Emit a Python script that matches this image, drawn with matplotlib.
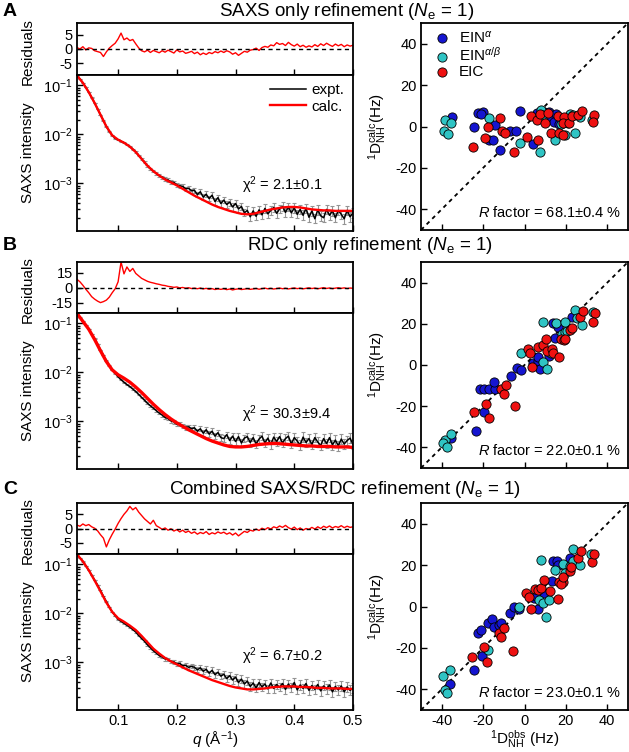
import numpy as np
import matplotlib
matplotlib.use('Agg')
import matplotlib.pyplot as plt

plt.rcParams['font.family'] = ['Liberation Sans', 'DejaVu Sans']
plt.rcParams['mathtext.fontset'] = 'custom'
plt.rcParams['mathtext.rm'] = 'Liberation Sans'
plt.rcParams['mathtext.it'] = 'Liberation Sans:italic'
plt.rcParams['mathtext.bf'] = 'Liberation Sans:bold'
plt.rcParams['axes.unicode_minus'] = False

# ---- SAXS data (log10 intensity), expt sampled every 0.005, calc every 0.01 ----
q_expt = np.linspace(0.03, 0.5, 95)
q_calc = np.linspace(0.03, 0.5, 48)

expt_a = [-0.80, -0.87, -0.95, -1.04, -1.14, -1.25, -1.36, -1.48, -1.60, -1.72,
          -1.84, -1.94, -2.02, -2.08, -2.11, -2.14, -2.17, -2.21, -2.25, -2.30,
          -2.36, -2.43, -2.50, -2.57, -2.64, -2.70, -2.75, -2.80, -2.84, -2.87,
          -2.91, -2.93, -2.97, -2.98, -3.03, -3.05, -3.06, -3.11, -3.10, -3.15,
          -3.14, -3.23, -3.17, -3.28, -3.22, -3.31, -3.24, -3.37, -3.29, -3.41,
          -3.34, -3.43, -3.38, -3.48, -3.41, -3.52, -3.47, -3.60, -3.55, -3.68,
          -3.56, -3.67, -3.54, -3.64, -3.51, -3.62, -3.55, -3.49, -3.61, -3.52,
          -3.47, -3.59, -3.48, -3.60, -3.50, -3.63, -3.53, -3.65, -3.51, -3.69,
          -3.56, -3.72, -3.54, -3.66, -3.70, -3.53, -3.65, -3.56, -3.70, -3.55,
          -3.63, -3.72, -3.55, -3.68, -3.60]
expt_b = [-0.80, -0.88, -0.96, -1.04, -1.12, -1.22, -1.31, -1.42, -1.54, -1.65,
          -1.76, -1.86, -1.95, -2.02, -2.09, -2.15, -2.20, -2.25, -2.29, -2.34,
          -2.39, -2.45, -2.51, -2.57, -2.63, -2.68, -2.73, -2.78, -2.83, -2.87,
          -2.92, -2.94, -2.99, -3.01, -3.06, -3.06, -3.10, -3.12, -3.11, -3.15,
          -3.13, -3.20, -3.15, -3.24, -3.17, -3.26, -3.20, -3.30, -3.23, -3.33,
          -3.35, -3.27, -3.39, -3.30, -3.41, -3.31, -3.44, -3.34, -3.31, -3.43,
          -3.33, -3.46, -3.36, -3.30, -3.44, -3.34, -3.47, -3.32, -3.41, -3.31,
          -3.44, -3.35, -3.30, -3.46, -3.33, -3.40, -3.48, -3.32, -3.43, -3.35,
          -3.47, -3.33, -3.42, -3.49, -3.35, -3.45, -3.33, -3.48, -3.38, -3.50,
          -3.36, -3.46, -3.39, -3.34, -3.47]
expt_c = [-0.80, -0.87, -0.94, -1.03, -1.12, -1.22, -1.32, -1.42, -1.53, -1.65,
          -1.76, -1.87, -1.97, -2.05, -2.12, -2.16, -2.20, -2.24, -2.28, -2.33,
          -2.38, -2.45, -2.51, -2.57, -2.64, -2.70, -2.76, -2.81, -2.86, -2.89,
          -2.93, -2.94, -2.98, -2.99, -3.03, -3.02, -3.07, -3.06, -3.10, -3.08,
          -3.10, -3.15, -3.11, -3.18, -3.14, -3.22, -3.16, -3.25, -3.20, -3.28,
          -3.24, -3.33, -3.27, -3.36, -3.30, -3.41, -3.34, -3.44, -3.38, -3.49,
          -3.42, -3.52, -3.41, -3.50, -3.44, -3.54, -3.42, -3.53, -3.45, -3.51,
          -3.43, -3.55, -3.44, -3.52, -3.41, -3.56, -3.46, -3.53, -3.43, -3.57,
          -3.47, -3.55, -3.45, -3.58, -3.48, -3.54, -3.46, -3.60, -3.49, -3.56,
          -3.48, -3.60, -3.50, -3.57, -3.52]
# experimental error, half width in decades
err_dex = [0.003, 0.003, 0.003, 0.003, 0.003, 0.003, 0.003, 0.004, 0.004, 0.004,
           0.005, 0.005, 0.006, 0.006, 0.007, 0.007, 0.008, 0.009, 0.010, 0.011,
           0.012, 0.014, 0.015, 0.017, 0.019, 0.021, 0.023, 0.025, 0.027, 0.030,
           0.032, 0.034, 0.037, 0.035, 0.040, 0.042, 0.039, 0.045, 0.047, 0.044,
           0.050, 0.053, 0.049, 0.056, 0.058, 0.055, 0.061, 0.063, 0.059, 0.066,
           0.068, 0.064, 0.071, 0.073, 0.069, 0.076, 0.078, 0.072, 0.080, 0.083,
           0.077, 0.085, 0.081, 0.088, 0.084, 0.079, 0.090, 0.086, 0.092, 0.082,
           0.089, 0.094, 0.087, 0.091, 0.096, 0.085, 0.093, 0.098, 0.088, 0.095,
           0.100, 0.090, 0.097, 0.102, 0.092, 0.099, 0.094, 0.104, 0.096, 0.101,
           0.098, 0.106, 0.095, 0.103, 0.100]

calc_a = [-0.80, -0.95, -1.14, -1.36, -1.60, -1.84, -2.02, -2.11, -2.17, -2.25,
          -2.36, -2.50, -2.64, -2.75, -2.84, -2.92, -2.98, -3.04, -3.11, -3.18,
          -3.25, -3.31, -3.37, -3.43, -3.48, -3.52, -3.56, -3.59, -3.62, -3.63,
          -3.62, -3.59, -3.56, -3.53, -3.51, -3.49, -3.48, -3.48, -3.49, -3.51,
          -3.53, -3.54, -3.55, -3.55, -3.56, -3.56, -3.56, -3.56]
calc_b = [-0.80, -0.96, -1.12, -1.33, -1.56, -1.78, -1.95, -2.05, -2.12, -2.20,
          -2.30, -2.41, -2.53, -2.65, -2.76, -2.86, -2.95, -3.03, -3.10, -3.17,
          -3.23, -3.29, -3.35, -3.40, -3.44, -3.48, -3.51, -3.52, -3.52, -3.51,
          -3.49, -3.47, -3.46, -3.45, -3.45, -3.46, -3.47, -3.48, -3.49, -3.50,
          -3.50, -3.51, -3.51, -3.51, -3.52, -3.52, -3.52, -3.53]
calc_c = [-0.80, -0.94, -1.12, -1.33, -1.55, -1.78, -1.97, -2.10, -2.17, -2.25,
          -2.34, -2.46, -2.59, -2.72, -2.82, -2.91, -2.98, -3.04, -3.10, -3.16,
          -3.21, -3.26, -3.31, -3.36, -3.40, -3.44, -3.48, -3.51, -3.53, -3.55,
          -3.55, -3.54, -3.53, -3.51, -3.50, -3.49, -3.49, -3.49, -3.50, -3.50,
          -3.51, -3.52, -3.52, -3.53, -3.53, -3.53, -3.54, -3.54]

# ---- residuals (same q as expt) ----
res_a = [0.5, 0.0, 0.8, -0.3, 0.4, 0.2, -0.6, -0.9, -1.2, -2.6,
         -1.0, 0.3, 1.2, 2.0, 3.5, 5.5, 3.2, 3.8, 2.9, 3.3,
         1.8, 0.4, -0.6, -1.0, -0.4, -1.2, -0.5, -0.9, -1.3, -0.6,
         -1.1, -0.4, -0.9, -1.4, -0.3, -1.0, -0.7, -1.5, -1.2, -0.8,
         -1.6, -1.1, -2.0, -1.4, -1.9, -1.2, -1.6, -0.9, -1.3, -0.7,
         -1.2, -0.6, -1.0, -1.8, -1.3, -2.2, -1.5, -0.8, -1.1, -0.4,
         -0.2, 0.3, -0.5, 0.5, 0.9, 0.6, 1.4, 1.1, 2.2, 1.6,
         1.9, 1.2, 2.3, 1.5, 1.0, 1.7, 0.8, 1.3, 0.6, 1.1,
         0.7, 1.5, 0.9, 1.8, 1.2, 2.0, 1.4, 0.9, 1.7, 1.1,
         1.6, 0.8, 1.4, 1.0, 1.3]
res_b = [8.5, 6.0, 2.5, -1.5, -5.0, -9.0, -11.5, -13.5, -15.0, -14.0,
         -12.5, -9.5, -5.0, -1.0, 6.0, 26.0, 14.0, 21.0, 16.5, 19.5,
         14.5, 12.0, 9.5, 8.0, 6.5, 5.5, 4.8, 4.0, 3.4, 2.6,
         2.2, 1.4, 1.0, 0.4, 0.8, -0.2, 0.3, -0.5, 0.0, -0.8,
         -0.4, -1.0, -0.3, -1.2, -0.6, -1.5, -0.9, -1.8, -1.1, -1.6,
         -1.0, -1.9, -1.3, -2.2, -1.5, -1.1, -1.8, -1.4, -0.9, -1.6,
         -1.2, -0.7, -1.5, -0.9, -0.4, -1.1, -0.6, -1.3, -0.8, -0.3,
         -1.0, -0.5, -1.2, -0.7, -0.2, -0.9, -0.4, -1.1, -0.6, -0.1,
         -0.8, -0.3, -1.0, -0.5, 0.1, -0.7, -0.2, -0.9, -0.4, 0.0,
         -0.6, -0.1, -0.8, -0.3, -0.5]
res_c = [1.2, 0.8, 1.6, 1.0, 1.4, 0.6, 0.1, -0.8, -2.2, -3.4,
         -6.5, -4.0, -2.0, -0.2, 1.8, 3.5, 5.0, 6.2, 7.8, 6.6,
         7.4, 5.8, 4.6, 3.4, 2.5, 1.6, 2.9, 1.0, 0.4, -0.3,
         0.2, -0.6, -0.1, -0.9, -0.4, -1.2, -0.6, -1.4, -0.9, -1.7,
         -1.2, -2.0, -1.4, -1.8, -1.1, -2.1, -1.5, -1.9, -1.2, -1.7,
         -1.3, -2.0, -1.5, -2.3, -1.6, -2.6, -1.8, -1.0, -1.4, -0.6,
         -0.9, -0.2, -0.7, 0.1, -0.4, 0.3, -0.2, 0.6, 0.2, 0.9,
         0.4, 1.1, 0.3, -0.2, 0.5, -0.4, 0.2, -0.6, 0.0, -0.3,
         0.4, -0.2, 0.6, 0.0, 0.8, 0.3, 0.9, 0.2, 0.7, 0.4,
         1.0, 0.3, 0.8, 0.4, 0.6]

# ---- RDC correlation (obs, calc) in Hz ----
a_alpha = [(-35.2, 4.5), (-22.3, 6.5), (-20.2, 7.0), (-21.0, 6.0), (-24.2, -0.3), (-14.1, 0.6),
           (-17.0, -6.3), (-15.2, -6.3), (-12.0, -11.4), (-6.9, -2.0), (-4.3, -2.0), (-2.3, 7.3),
           (4.0, -8.4), (6.0, 6.5), (9.6, 7.0), (12.0, 7.0), (12.8, 4.5), (15.2, 6.2), (14.4, 2.1),
           (16.8, 1.3)]
a_ab = [(-38.5, 3.3), (-35.5, 1.6), (-38.8, -2.4), (-37.1, -3.6), (-17.0, 4.0), (-2.3, -8.0),
        (7.3, -12.2), (8.0, 7.8), (8.3, 5.4), (17.6, 1.3), (20.9, 1.6), (22.1, 6.2), (23.3, 5.4),
        (27.0, 4.5), (32.5, 2.9), (24.4, -2.9), (19.7, -4.1), (14.9, -6.5)]
a_eic = [(-11.8, 4.0), (-17.8, -0.3), (-18.9, -5.5), (-24.7, -10.1), (-10.9, -2.0), (-9.3, -2.9),
         (1.1, -5.2), (-4.9, -12.3), (6.4, -6.3), (3.1, 4.9), (6.0, 3.3), (7.6, 5.9), (9.9, 1.6),
         (11.2, 6.5), (16.0, 4.9), (19.2, 4.5), (18.5, 1.6), (21.6, 1.6), (23.0, 4.9), (25.7, 5.4),
         (27.8, 7.6), (33.7, 5.4), (32.9, 2.1), (12.8, -2.9), (16.8, -3.3), (18.5, -4.1)]

b_alpha = [(-35.3, -35.6), (-23.4, -32.2), (-19.4, -23.0), (-21.3, -11.7), (-19.4, -11.7),
           (-17.0, -11.7), (-14.3, -11.7), (-14.6, -8.1), (-6.5, -5.3), (-3.6, -1.6), (-1.7, -2.4),
           (4.3, 1.1), (6.7, 1.8), (7.5, -1.8), (6.7, 3.9), (11.7, 4.4), (14.7, 13.0), (13.9, 20.4),
           (15.6, 20.0), (16.3, 18.4), (22.8, 23.5)]
b_ab = [(-38.5, -36.4), (-39.3, -38.0), (-37.4, -40.0), (-35.3, -33.3), (-1.8, 5.9), (9.1, 1.4),
        (11.0, -1.8), (9.1, 21.1), (15.4, 20.2), (18.0, 15.1), (19.6, 15.9), (20.7, 16.3),
        (19.6, 20.8), (24.4, 26.7), (25.2, 22.7), (27.6, 19.5), (33.3, 25.6), (13.0, 6.0)]
b_eic = [(-24.5, -23.0), (-18.6, -18.8), (-17.0, -25.8), (-4.4, -20.1), (-11.4, -11.7),
         (-9.8, -14.0), (-8.9, -9.7), (1.5, 7.6), (2.7, 5.8), (3.8, -1.1), (6.7, 8.7), (9.1, 9.8),
         (10.4, 12.4), (11.0, 6.9), (13.1, 7.6), (13.6, 5.9), (16.7, 3.9), (17.5, 12.7), (19.1, 11.9),
         (19.7, 12.4), (22.0, 16.8), (22.8, 17.9), (26.8, 23.5), (28.1, 26.4), (34.0, 25.3),
         (33.3, 21.1)]

c_alpha = [(-35.9, -37.5), (-24.5, -30.5), (-20.5, -23.7), (-22.6, -12.9), (-20.8, -11.3),
           (-17.7, -8.1), (-15.6, -6.0), (-14.8, -9.7), (-12.3, -8.7), (-11.5, -8.1), (-7.1, -3.2),
           (-5.0, 0.0), (-2.6, -1.1), (4.4, 4.2), (5.5, 5.3), (6.3, -1.1), (9.6, 6.5), (13.3, 12.3),
           (13.6, 22.0), (15.6, 22.0), (16.1, 19.9), (21.8, 23.6)]
c_ab = [(-39.4, -33.8), (-38.3, -40.4), (-37.5, -42.0), (-35.9, -30.5), (-17.7, -21.0), (-2.6, -0.3),
        (7.1, 3.2), (8.8, 1.6), (8.0, 22.3), (10.4, -5.2), (12.0, 3.2), (14.8, 17.4), (18.5, 20.4),
        (19.8, 16.2), (21.8, 19.4), (23.4, 22.0), (26.6, 20.2), (23.5, 27.8), (32.3, 25.5)]
c_eic = [(-25.3, -24.6), (-19.6, -19.7), (-18.3, -26.7), (-5.4, -21.3), (-12.3, -12.9),
         (-11.5, -14.5), (-9.9, -10.3), (0.6, 6.5), (2.3, 4.5), (3.1, -1.1), (5.0, 8.6), (6.3, 8.1),
         (8.0, 9.0), (9.6, 12.6), (12.5, 7.4), (16.1, 3.7), (16.9, 12.0), (18.5, 12.0), (17.7, 10.7),
         (18.5, 14.2), (21.9, 17.1), (22.6, 19.1), (25.8, 23.3), (27.4, 26.8), (32.6, 21.5),
         (33.6, 25.5)]

titles = ['SAXS only refinement ($N_{\\mathrm{e}}$ = 1)',
          'RDC only refinement ($N_{\\mathrm{e}}$ = 1)',
          'Combined SAXS/RDC refinement ($N_{\\mathrm{e}}$ = 1)']
letters = ['A', 'B', 'C']
chi_text = ['2.1±0.1', '30.3±9.4', '6.7±0.2']
r_text = ['68.1±0.4', '22.0±0.1', '23.0±0.1']

expts = [expt_a, expt_b, expt_c]
calcs = [calc_a, calc_b, calc_c]
resids = [res_a, res_b, res_c]
rdcs = [(a_alpha, a_ab, a_eic), (b_alpha, b_ab, b_eic), (c_alpha, c_ab, c_eic)]

# layout in pixels: (residual top, split, saxs bottom, scatter bottom)
rows = [(23, 75, 231, 230), (262, 313, 469, 468), (503, 554, 710, 710)]
title_pos = [(347, 11), (370, 246), (345, 490)]
letter_y = [11, 246, 490]
res_lim = [(-9, 9), (-25.5, 26), (-9, 9)]
res_ticks = [[5, 0, -5], [15, 0, -15], [5, 0, -5]]
chi_y = [0.295, 0.35, 0.345]

W, H = 629, 752
fig = plt.figure(figsize=(W / 100, H / 100), dpi=100)


def box(x0, y0, x1, y1):
    return [x0 / W, 1 - y1 / H, (x1 - x0) / W, (y1 - y0) / H]


def style(ax):
    for s in ax.spines.values():
        s.set_linewidth(1.3)
    ax.tick_params(which='both', direction='in', labelsize=10.5, width=1.0, length=4, pad=3)
    ax.tick_params(which='minor', length=2.5)


blue, cyan, red = '#1515d0', '#2fc4c4', '#ee1111'

for i in range(3):
    top, mid, bot, sbot = rows[i]
    ax_r = fig.add_axes(box(77, top, 353, mid))
    ax_m = fig.add_axes(box(77, mid, 353, bot))
    ax_s = fig.add_axes(box(421, top, 628, sbot))

    # residuals
    ax_r.plot(q_expt, resids[i], color='red', lw=1.0)
    ax_r.axhline(0, color='k', lw=1.0, ls=(0, (3, 2.5)))
    ax_r.set_xlim(0.03, 0.5)
    ax_r.set_ylim(*res_lim[i])
    ax_r.set_yticks(res_ticks[i])
    ax_r.set_xticks([0.1, 0.2, 0.3, 0.4, 0.5])
    ax_r.tick_params(labelbottom=False)
    ax_r.set_ylabel('Residuals', fontsize=11)
    ax_r.yaxis.set_label_coords(-0.152, 0.45)
    style(ax_r)

    # SAXS curves
    ye = np.array(expts[i])
    er = np.array(err_dex)
    Ie = 10 ** ye
    ax_m.errorbar(q_expt, Ie, yerr=[Ie - 10 ** (ye - er), 10 ** (ye + er) - Ie], fmt='none',
                  ecolor='0.58', elinewidth=0.8, capsize=1.4, capthick=0.8)
    ax_m.plot(q_expt, Ie, color='k', lw=1.1, label='expt.')
    ax_m.plot(q_calc, 10 ** np.array(calcs[i]), color='red', lw=2.4 if i == 1 else 1.7,
              label='calc.')
    ax_m.set_yscale('log')
    ax_m.set_xlim(0.03, 0.5)
    ax_m.set_ylim(10 ** -3.97, 10 ** -0.79)
    ax_m.set_xticks([0.1, 0.2, 0.3, 0.4, 0.5])
    ax_m.set_xticklabels(['0.1', '0.2', '0.3', '0.4', '0.5'])
    ax_m.set_ylabel('SAXS intensity', fontsize=11)
    ax_m.yaxis.set_label_coords(-0.152, 0.5)
    ax_m.text(0.597, chi_y[i], 'χ$^{2}$ = ' + chi_text[i], transform=ax_m.transAxes,
              fontsize=10.5, va='center', ha='left')
    style(ax_m)
    if i < 2:
        ax_m.tick_params(labelbottom=False)
    else:
        ax_m.set_xlabel('$q$ (Å$^{-1}$)', fontsize=11, labelpad=1)
    if i == 0:
        ax_m.legend(loc='upper right', frameon=False, fontsize=11, handlelength=2.3,
                    handletextpad=0.4, labelspacing=0.15, borderaxespad=0.15)

    # RDC scatter
    ax_s.plot([-50, 50], [-50, 50], color='k', lw=1.3, ls=(0, (2.2, 2.2)), zorder=1)
    labels = ['EIN$^{α}$', 'EIN$^{α/β}$', 'EIC']
    for pts, col, lab in zip(rdcs[i], [blue, cyan, red], labels):
        arr = np.array(pts)
        ax_s.scatter(arr[:, 0], arr[:, 1], s=44, c=col, edgecolors='k', linewidths=0.6,
                     zorder=3, label=lab)
    ax_s.set_xlim(-50, 50)
    ax_s.set_ylim(-50, 50)
    ax_s.set_xticks([-40, -20, 0, 20, 40])
    ax_s.set_yticks([-40, -20, 0, 20, 40])
    ax_s.set_ylabel('$^{1}$D$_{\\mathrm{NH}}^{\\mathrm{calc}}$(Hz)', fontsize=11)
    ax_s.yaxis.set_label_coords(-0.16, 0.5)
    ax_s.text(0.965, 0.05, '$R$ factor = ' + r_text[i] + ' %', transform=ax_s.transAxes,
              ha='right', va='bottom', fontsize=10.5)
    style(ax_s)
    if i < 2:
        ax_s.tick_params(labelbottom=False)
    else:
        ax_s.set_xlabel('$^{1}$D$_{\\mathrm{NH}}^{\\mathrm{obs}}$ (Hz)', fontsize=11, labelpad=0)
    if i == 0:
        ax_s.legend(loc='upper left', frameon=False, fontsize=11, handletextpad=0.1,
                    labelspacing=0.05, borderaxespad=0.2, borderpad=0.2)

    fig.text(title_pos[i][0] / W, 1 - title_pos[i][1] / H, titles[i], ha='center',
             va='center', fontsize=13.5)
    fig.text(3 / W, 1 - letter_y[i] / H, letters[i], ha='left', va='center', fontsize=14,
             fontweight='bold')

fig.savefig('out.png', dpi=100)
